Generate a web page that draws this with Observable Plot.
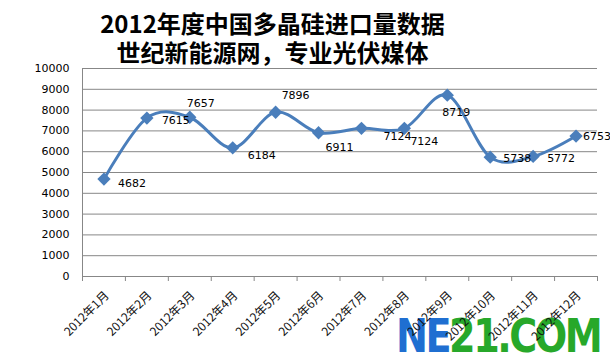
<!DOCTYPE html>
<html>
<head>
<meta charset="utf-8">
<script src="https://cdn.jsdelivr.net/npm/d3@7"></script>
<script src="https://cdn.jsdelivr.net/npm/@observablehq/plot@0.6"></script>
<style>
  html, body { margin: 0; padding: 0; background: #fff; }
  #wrap { position: relative; width: 610px; height: 356px; overflow: hidden; background: #fff; }
  #title { position: absolute; left: 0; top: 8px; width: 545px; text-align: center; font-family: "Noto Sans CJK SC", sans-serif; font-weight: 700; font-size: 24px; color: #000; line-height: 29px; }
  #chart { position: absolute; left: 0; top: 62px; z-index: 2; }
  #logo { position: absolute; z-index: 1; left: 396px; top: 313px; font-family: "DejaVu Sans", sans-serif; font-weight: 700; font-size: 46px; line-height: 46px; letter-spacing: -3px; white-space: nowrap; transform-origin: left top; transform: scaleX(0.83); }
</style>
</head>
<body>
<div id="wrap">
  <div id="title">2012年度中国多晶硅进口量数据<br>世纪新能源网，专业光伏媒体</div>
  <div id="logo"><span style="color:#1f6fd1">NE</span><span style="color:#27a82a">21.COM</span></div>
  <div id="chart"></div>
</div>
<script>
const months = ["2012年1月","2012年2月","2012年3月","2012年4月","2012年5月","2012年6月","2012年7月","2012年8月","2012年9月","2012年10月","2012年11月","2012年12月"];
const imports = [4682, 7615, 7657, 6184, 7896, 6911, 7124, 7124, 8719, 5738, 5772, 6753];
const yTicks = [0, 1000, 2000, 3000, 4000, 5000, 6000, 7000, 8000, 9000, 10000];
// label nudges (pixels) relative to each marker, as placed in the original
const labelNudge = [[14,4],[15,2],[-3,-14],[15,8],[6,-17],[7,15],[22,8],[6,13],[-5,17],[13,1],[14,2],[7,0]];

const data = months.map((m, i) => ({i, m, v: imports[i]}));
const xPos = d => d.i + 0.5;
const blue = "#4a7ebb";
const grid = "#878787";

const labelMarks = data.map((d, k) => Plot.text([d], {
  x: xPos, y: "v", text: d => String(d.v),
  dx: labelNudge[k][0], dy: labelNudge[k][1],
  textAnchor: "start", fontSize: 11, fill: "#000", fontFamily: "DejaVu Sans"
}));

const chart = Plot.plot({
  width: 610, height: 294,
  marginTop: 6, marginBottom: 80, marginLeft: 82, marginRight: 13,
  style: {background: "transparent", fontFamily: "DejaVu Sans", fontSize: "11px", color: "#000"},
  x: {type: "linear", domain: [0, 12], axis: null},
  y: {domain: [0, 10000], axis: null},
  marks: [
    Plot.gridY(yTicks, {stroke: grid, strokeOpacity: 1}),
    Plot.axisY({ticks: yTicks, label: null, tickSize: 0, tickPadding: 13, tickFormat: d => String(d), fontSize: 11, fontFamily: "DejaVu Sans"}),
    Plot.ruleX([0], {stroke: grid}),
    Plot.ruleY([0], {stroke: grid}),
    Plot.axisX({ticks: d3.range(0, 13), label: null, tickSize: 5, tickFormat: () => "", stroke: grid}),
    Plot.axisX({ticks: data.map(xPos), label: null, tickSize: 0, tickPadding: 17, dx: 3, tickRotate: -45,
      tickFormat: t => months[Math.floor(t)], fontSize: 12, fontFamily: "Noto Sans CJK SC", fill: "#111"}),
    Plot.line(data, {x: xPos, y: "v", curve: "cardinal", tension: 0, stroke: blue, strokeWidth: 3}),
    Plot.dot(data, {x: xPos, y: "v", symbol: "diamond2", r: 6, fill: blue, stroke: "none"}),
    ...labelMarks
  ]
});
document.getElementById("chart").appendChild(chart);
</script>
</body>
</html>
